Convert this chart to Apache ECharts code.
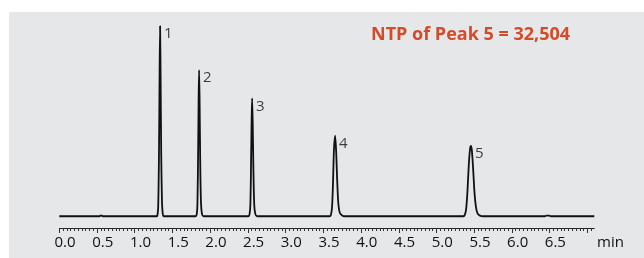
<!DOCTYPE html>
<html>
<head>
<meta charset="utf-8">
<script src="https://cdn.jsdelivr.net/npm/echarts@6/dist/echarts.min.js"></script>
<style>
  html, body { margin: 0; padding: 0; background: #fff; }
  #wrap { position: relative; width: 644px; height: 258px; background: #fff; overflow: hidden; }
  #panel { position: absolute; left: 9px; top: 12px; right: 0; bottom: 0; background: #e6e7e8; }
  #chart { position: absolute; left: 0; top: 0; width: 644px; height: 258px; }
</style>
</head>
<body>
<div id="wrap">
  <div id="panel"></div>
  <div id="chart"></div>
</div>
<script>
  // chromatogram trace, [time (min), signal]
  const baseline = [[-0.076, 0], [0.45, 0], [0.48, 0.4], [0.5, 0], [1.215, 0]];
  const peak1 = [[1.215, 0], [1.225, 0.5], [1.235, 5], [1.245, 30], [1.253, 70], [1.26, 96.9], [1.267, 70], [1.275, 32], [1.285, 8], [1.295, 1.5], [1.31, 0]];
  const peak2 = [[1.73, 0], [1.745, 0.8], [1.755, 6], [1.765, 35], [1.771, 60], [1.777, 74.5], [1.784, 58], [1.792, 28], [1.802, 7], [1.815, 1.2], [1.835, 0]];
  const peak3 = [[2.43, 0], [2.445, 0.8], [2.457, 6], [2.467, 30], [2.474, 50], [2.48, 60.1], [2.488, 47], [2.497, 24], [2.508, 6], [2.522, 1.2], [2.545, 0]];
  const peak4 = [[3.505, 0], [3.525, 0.8], [3.54, 5], [3.553, 18], [3.565, 34], [3.58, 41.1], [3.594, 33], [3.608, 18], [3.624, 6], [3.645, 1.5], [3.68, 0.2], [3.7, 0]];
  const peak5 = [[5.28, 0], [5.3, 0.7], [5.318, 4], [5.335, 13], [5.352, 26], [5.368, 34], [5.38, 35.8], [5.393, 33.5], [5.41, 24], [5.428, 12], [5.448, 4.5], [5.47, 1.3], [5.5, 0.3], [5.54, 0]];
  const tail = [[5.54, 0], [6.36, 0], [6.38, 0.3], [6.42, 0.3], [6.44, 0], [7.016, 0]];

  const peakNames = ['1', '2', '3', '4', '5'];
  const peakTimes = [1.26, 1.777, 2.48, 3.58, 5.38];
  const peakHeights = [96.9, 74.5, 60.1, 41.1, 35.8];

  const labelValues = [0, 0.5, 1, 1.5, 2, 2.5, 3, 3.5, 4, 4.5, 5, 5.5, 6, 6.5];
  const tickStart = -0.076;

  const trace = [].concat(baseline, peak1, peak2, peak3, peak4, peak5, tail);

  const minorTicks = [];
  for (let i = 0; i <= 141; i++) minorTicks.push(+(tickStart + i * 0.05).toFixed(3));
  const majorTicks = [];
  for (let i = 0; i <= 14; i++) majorTicks.push(+(tickStart + i * 0.5).toFixed(3));

  const font = '"Open Sans", "Noto Sans", sans-serif';

  let myChart = echarts.init(document.getElementById('chart'));
  myChart.setOption({
    animation: false,
    title: {
      text: 'NTP of Peak 5 = 32,504',
      left: 371,
      top: 26,
      padding: 0,
      textStyle: { color: '#d44b29', fontSize: 18, fontWeight: 'bold', fontFamily: font },
    },
    grid: { left: 59.3, right: 49.7, top: 20, bottom: 30 },
    xAxis: [
      {
        type: 'value',
        min: -0.076,
        max: 7.016,
        splitLine: { show: false },
        axisLine: { show: true, onZero: false, lineStyle: { color: '#222', width: 1 } },
        axisTick: { show: true, customValues: minorTicks, length: 3, lineStyle: { color: '#333' } },
        axisLabel: {
          show: true,
          customValues: labelValues,
          formatter: (v) => v.toFixed(1),
          color: '#111',
          fontSize: 15,
          fontFamily: font,
          margin: 7,
        },
      },
      {
        type: 'value',
        min: -0.076,
        max: 7.016,
        position: 'bottom',
        splitLine: { show: false },
        axisLine: { show: false, onZero: false },
        axisTick: { show: true, customValues: majorTicks, length: 5, lineStyle: { color: '#333' } },
        axisLabel: { show: false },
      },
    ],
    yAxis: {
      type: 'value',
      min: -6,
      max: 100,
      show: false,
      splitLine: { show: false },
    },
    graphic: [
      {
        type: 'text',
        x: 597,
        y: 243,
        style: { text: 'min', fill: '#111', fontSize: 15, fontFamily: font, textVerticalAlign: 'middle' },
      },
    ],
    series: [
      {
        type: 'line',
        data: trace,
        showSymbol: false,
        smooth: 0.3,
        lineStyle: { color: '#111', width: 1.8 },
        z: 3,
      },
      {
        type: 'scatter',
        symbolSize: 0,
        data: peakNames.map((n, i) => ({ name: n, value: [peakTimes[i], peakHeights[i]] })),
        label: {
          show: true,
          formatter: '{b}',
          position: 'right',
          distance: 4,
          offset: [0, 8],
          color: '#111',
          fontSize: 15,
          fontFamily: font,
        },
        z: 4,
      },
    ],
  });
</script>
</body>
</html>
